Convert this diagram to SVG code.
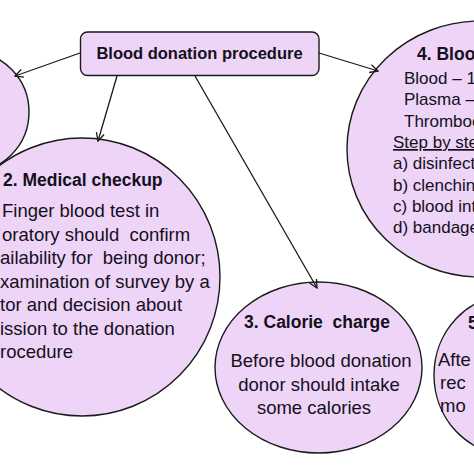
<svg xmlns="http://www.w3.org/2000/svg" width="474" height="474" viewBox="0 0 474 474">
<style>
.shape{fill:#eed4f6;stroke:#1a1a1a;stroke-width:1.4}
text{font-family:"Liberation Sans",Arial,sans-serif;fill:#14101c;white-space:pre}
.h{font-weight:bold;font-size:17.5px}
.b{font-size:18.5px}
.s{font-size:17px}
.conn{stroke:#1a1a1a;stroke-width:1.3;fill:none;marker-end:url(#arr)}
</style>
<defs>
<marker id="arr" markerWidth="10" markerHeight="10" refX="9" refY="5" orient="auto" markerUnits="userSpaceOnUse">
<path d="M1,1 L9,5 L1,9" fill="none" stroke="#1a1a1a" stroke-width="1.3"/>
</marker>
</defs>
<rect width="474" height="474" fill="#ffffff"/>
<g id="node1">
<ellipse class="shape" cx="-30" cy="112" rx="59" ry="60"/>
</g>
<g id="node2">
<ellipse class="shape" cx="82" cy="277" rx="138" ry="139"/>
<text class="h" x="3" y="186">2. Medical checkup</text>
<text class="b" x="2" y="217">Finger blood test in</text>
<text class="b" x="2" y="241">oratory should  confirm</text>
<text class="b" x="0" y="264">ailability for  being donor;</text>
<text class="b" x="0" y="288">xamination of survey by a</text>
<text class="b" x="0" y="311">tor and decision about</text>
<text class="b" x="0" y="335">ission to the donation</text>
<text class="b" x="0" y="358">rocedure</text>
</g>
<g id="node3">
<ellipse class="shape" cx="318.5" cy="367.5" rx="103.5" ry="85.5"/>
<text class="h" x="317" y="328" text-anchor="middle">3. Calorie  charge</text>
<text class="b" x="321" y="367" text-anchor="middle">Before blood donation</text>
<text class="b" x="319" y="391" text-anchor="middle">donor should intake</text>
<text class="b" x="314" y="414" text-anchor="middle">some calories</text>
</g>
<g id="node4">
<ellipse class="shape" cx="480" cy="149" rx="133" ry="128"/>
<text class="h" x="417" y="60">4. Bloo</text>
<text class="s" x="404" y="84">Blood – 15</text>
<text class="s" x="404" y="105">Plasma –</text>
<text class="s" x="404" y="127">Thromboc</text>
<text class="s" x="393" y="148" text-decoration="underline">Step by ste</text>
<text class="s" x="393" y="169">a) disinfect</text>
<text class="s" x="393" y="191">b) clenchin</text>
<text class="s" x="393" y="212">c) blood int</text>
<text class="s" x="393" y="233">d) bandage</text>
</g>
<g id="node5">
<ellipse class="shape" cx="510" cy="375" rx="76" ry="80"/>
<text class="h" x="468" y="329">5</text>
<text class="b" x="438" y="366">Afte</text>
<text class="b" x="440" y="389">rec</text>
<text class="b" x="440" y="412">mo</text>
</g>
<g id="node0">
<rect class="shape" x="80.5" y="32" width="238.5" height="43.5" rx="7"/>
<text x="199.5" y="59" text-anchor="middle" style="font-weight:bold;font-size:16.5px">Blood donation procedure</text>
</g>
<g id="connectors">
<line class="conn" x1="80" y1="53" x2="15" y2="76"/>
<line class="conn" x1="117" y1="76" x2="98" y2="141"/>
<line class="conn" x1="195" y1="76" x2="317" y2="288"/>
<line class="conn" x1="319" y1="53" x2="378" y2="71"/>
</g>
</svg>
